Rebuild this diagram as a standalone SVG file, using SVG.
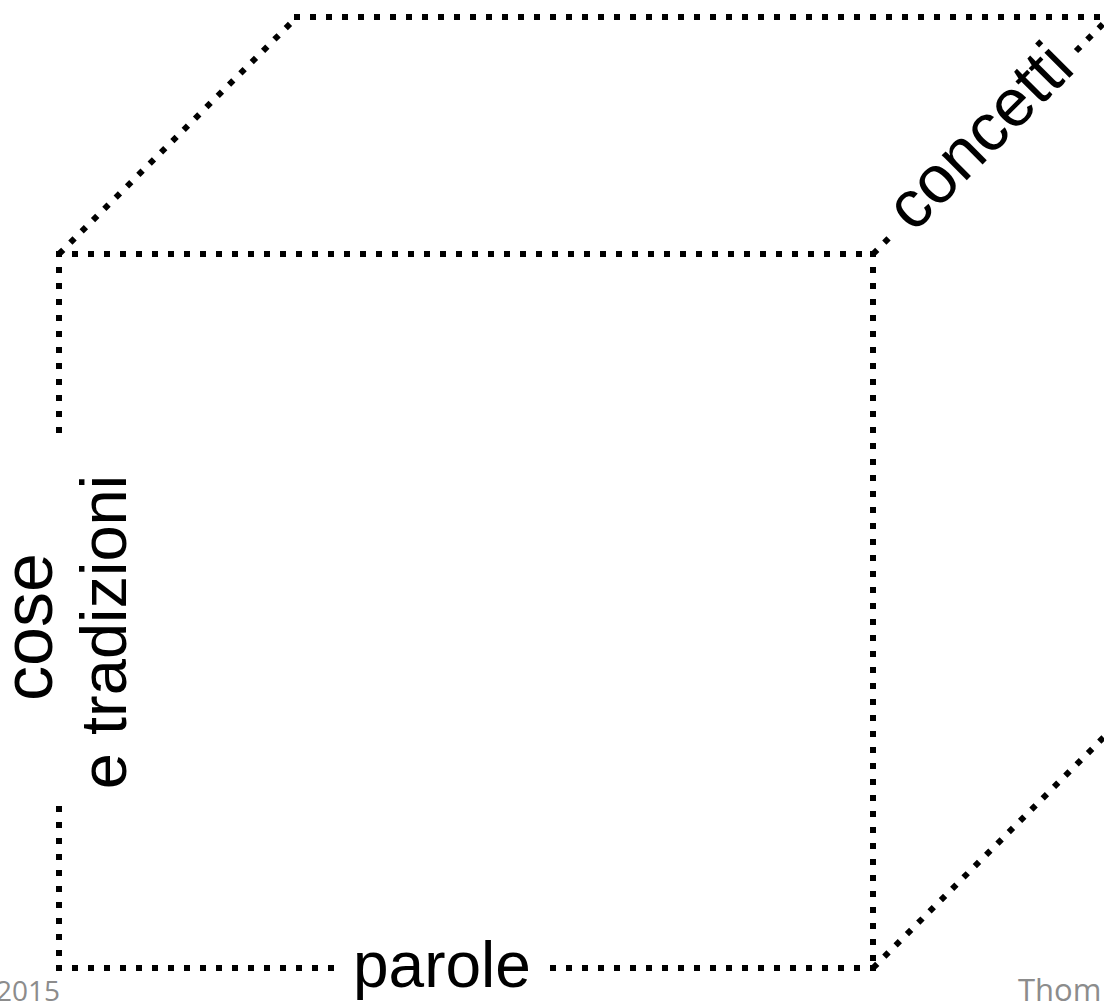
<svg xmlns="http://www.w3.org/2000/svg" width="1104" height="1003" viewBox="0 0 1104 1003">
<style>
.e{fill:none;stroke:#000;stroke-width:6;stroke-dasharray:6 10;stroke-linecap:butt}
.t{font-family:"Liberation Sans",Arial,sans-serif;fill:#000}
.f{font-family:"Open Sans","Liberation Sans",sans-serif;fill:#8c8c8c}
</style>
<rect width="1104" height="1003" fill="#fff"/>
<g id="connectors">
<line class="e" x1="56" y1="254" x2="876" y2="254"/>
<line class="e" x1="59" y1="251" x2="59" y2="435"/>
<line class="e" x1="59" y1="806" x2="59" y2="971"/>
<line class="e" x1="873" y1="251" x2="873" y2="971"/>
<line class="e" x1="56" y1="968" x2="335" y2="968"/>
<line class="e" x1="550" y1="968" x2="876" y2="968"/>
<line class="e" x1="59" y1="254" x2="297" y2="17"/>
<line class="e" x1="294" y1="17" x2="1110" y2="17"/>
<line class="e" x1="873" y1="254" x2="892" y2="235"/>
<line class="e" x1="1076" y1="51" x2="1110" y2="17"/>
<line class="e" x1="873" y1="968" x2="1110" y2="731"/>
</g>
<g id="parole">
<text class="t" x="353" y="987" font-size="64">parole</text>
</g>
<g id="cose">
<text class="t" transform="translate(52,627) rotate(-90)" font-size="70" text-anchor="middle">cose</text>
<text class="t" transform="translate(126,632) rotate(-90)" font-size="65" text-anchor="middle">e tradizioni</text>
</g>
<g id="concetti">
<text class="t" transform="translate(983,140) rotate(-45)" font-size="67" text-anchor="middle" y="17">concetti</text>
</g>
<g id="footer">
<text class="f" x="-4" y="1001" font-size="28">2015</text>
<text class="f" x="1018" y="1001" font-size="31">Thom</text>
</g>
</svg>
